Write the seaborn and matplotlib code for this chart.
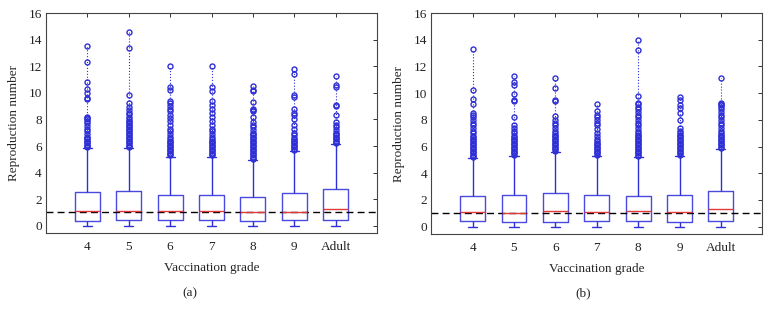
import pandas as pd
import seaborn as sns
import matplotlib.pyplot as plt

# Categories
grades = ['4', '5', '6', '7', '8', '9', 'Adult']

# Box stats: lower whisker, Q1, median, Q3, upper whisker
low_a = [0, 0, 0, 0, 0, 0, 0]
q1_a = [0.38, 0.43, 0.43, 0.40, 0.38, 0.43, 0.45]
med_a = [1.10, 1.10, 1.10, 1.10, 1.00, 1.05, 1.25]
q3_a = [2.53, 2.58, 2.33, 2.33, 2.20, 2.48, 2.76]
high_a = [5.85, 5.85, 5.20, 5.20, 4.95, 5.60, 6.15]

low_b = [0, 0, 0, 0, 0, 0, 0]
q1_b = [0.45, 0.37, 0.37, 0.45, 0.45, 0.37, 0.45]
med_b = [1.12, 1.05, 1.15, 1.10, 1.15, 1.10, 1.30]
q3_b = [2.31, 2.39, 2.51, 2.39, 2.31, 2.39, 2.64]
high_b = [5.15, 5.30, 5.60, 5.30, 5.25, 5.30, 5.85]

# Outliers per grade
out_a = [
    [5.9, 6.0, 6.1, 6.2, 6.3, 6.4, 6.5, 6.6, 6.7, 6.9, 7.1, 7.3, 7.5, 7.7, 7.9, 8.0, 8.1, 8.2,
     9.5, 9.6, 10.0, 10.3, 10.8, 12.3, 13.5],
    [5.9, 6.0, 6.1, 6.2, 6.3, 6.4, 6.5, 6.6, 6.7, 6.8, 6.9, 7.0, 7.1, 7.2, 7.3, 7.4, 7.5, 7.6,
     7.7, 7.8, 7.9, 8.0, 8.2, 8.4, 8.5, 8.7, 8.9, 9.2, 9.8, 13.4, 14.6],
    [5.3, 5.4, 5.5, 5.6, 5.7, 5.8, 5.9, 6.0, 6.1, 6.2, 6.3, 6.4, 6.5, 6.7, 6.9, 7.1, 7.3, 7.6,
     7.9, 8.1, 8.3, 8.6, 8.8, 9.0, 9.2, 9.4, 10.2, 10.4, 12.0],
    [5.3, 5.4, 5.5, 5.6, 5.7, 5.8, 5.9, 6.0, 6.1, 6.2, 6.3, 6.4, 6.5, 6.7, 6.9, 7.1, 7.3, 7.6,
     7.9, 8.2, 8.5, 8.8, 9.1, 9.4, 10.1, 10.4, 12.0],
    [5.0, 5.1, 5.2, 5.3, 5.4, 5.5, 5.6, 5.7, 5.8, 5.9, 6.0, 6.1, 6.2, 6.3, 6.4, 6.5, 6.6, 6.7,
     6.8, 6.9, 7.0, 7.2, 7.4, 7.6, 7.8, 8.2, 8.6, 8.7, 8.8, 9.3, 10.1, 10.2, 10.5],
    [5.7, 5.8, 5.9, 6.0, 6.1, 6.2, 6.3, 6.4, 6.5, 6.6, 6.8, 7.0, 7.3, 7.6, 8.0, 8.3, 8.5, 8.8,
     9.7, 9.8, 11.4, 11.8],
    [6.2, 6.3, 6.4, 6.5, 6.6, 6.7, 6.8, 6.9, 7.0, 7.2, 7.4, 7.6, 7.8, 8.3, 9.0, 9.1, 10.4,
     10.6, 11.3],
]
out_b = [
    [5.2, 5.3, 5.4, 5.5, 5.6, 5.7, 5.8, 5.9, 6.0, 6.1, 6.2, 6.3, 6.4, 6.5, 6.6, 6.7, 6.8, 7.0,
     7.2, 7.4, 7.6, 7.8, 8.0, 8.2, 8.4, 8.5, 9.2, 9.6, 10.2, 13.3],
    [5.4, 5.5, 5.6, 5.7, 5.8, 5.9, 6.0, 6.1, 6.2, 6.3, 6.4, 6.5, 6.6, 6.7, 6.8, 7.0, 7.2, 7.4,
     7.6, 8.2, 9.4, 9.5, 9.9, 10.6, 10.8, 11.3],
    [5.7, 5.8, 5.9, 6.0, 6.1, 6.2, 6.3, 6.4, 6.5, 6.6, 6.7, 6.8, 6.9, 7.0, 7.2, 7.4, 7.6, 7.8,
     8.0, 8.3, 9.4, 9.5, 10.4, 11.1],
    [5.4, 5.5, 5.6, 5.7, 5.8, 5.9, 6.0, 6.1, 6.2, 6.3, 6.4, 6.6, 6.8, 7.0, 7.3, 7.6, 7.8, 8.0,
     8.2, 8.4, 8.7, 9.2],
    [5.3, 5.4, 5.5, 5.6, 5.7, 5.8, 5.9, 6.0, 6.1, 6.2, 6.3, 6.4, 6.5, 6.6, 6.7, 6.8, 6.9, 7.0,
     7.2, 7.4, 7.6, 7.8, 8.0, 8.2, 8.4, 8.6, 8.8, 9.0, 9.2, 9.3, 9.8, 13.2, 14.0],
    [5.4, 5.5, 5.6, 5.7, 5.8, 5.9, 6.0, 6.1, 6.2, 6.3, 6.4, 6.5, 6.6, 6.7, 6.8, 6.9, 7.0, 7.2,
     7.4, 8.0, 8.5, 8.9, 9.1, 9.5, 9.7],
    [5.9, 6.0, 6.1, 6.2, 6.3, 6.4, 6.5, 6.6, 6.7, 6.8, 6.9, 7.0, 7.2, 7.4, 7.6, 7.8, 8.0, 8.2,
     8.4, 8.6, 8.8, 9.0, 9.1, 9.2, 9.3, 11.1],
]

yticks = [0, 2, 4, 6, 8, 10, 12, 14, 16]
panel_tags = ['(a)', '(b)']

sns.set_style('white')
plt.rcParams['font.family'] = ['Liberation Serif', 'DejaVu Serif']

blue = '#2f2fd6'
box_blue = '#4a4ae0'
red = '#e03a3a'


def draw_panel(ax, low, q1, med, q3, high, outliers):
    # five values per grade so the quartiles land on q1 / median / q3
    rows = []
    for g, a, b, c, d, e in zip(grades, low, q1, med, q3, high):
        for v in (a, b, c, d, e):
            rows.append({'grade': g, 'value': v})
    df = pd.DataFrame(rows)
    sns.boxplot(data=df, x='grade', y='value', order=grades, ax=ax, whis=(0, 100),
                showfliers=False, width=0.6, fill=False, color=box_blue, linewidth=1.0,
                medianprops={'color': red, 'linewidth': 1.0},
                whiskerprops={'color': blue, 'linewidth': 1.0},
                capprops={'color': blue, 'linewidth': 1.0}, capwidths=0.22)
    for i, vals in enumerate(outliers):
        ax.vlines(i, high[i], max(vals), colors=blue, linestyles=':', linewidth=0.8)
        ax.plot([i] * len(vals), vals, 'o', mfc='none', mec=blue, ms=3.6, mew=1.0)
    ax.axhline(1, color='black', linestyle='--', linewidth=1.0, dashes=(5, 3))
    ax.set_xlim(-1, 7)
    ax.set_ylim(-0.55, 16)
    ax.set_yticks(yticks)
    ax.set_xlabel('Vaccination grade', fontsize=9.5, labelpad=6)
    ax.set_ylabel('Reproduction number', fontsize=9.5, labelpad=6)
    ax.tick_params(axis='both', direction='in', length=3, width=0.7, colors='#333333',
                   labelcolor='#222222', labelsize=9.5, top=True, right=True)
    ax.tick_params(axis='y', pad=3)
    ax.tick_params(axis='x', pad=6)
    for s in ax.spines.values():
        s.set_color('#444444')
        s.set_linewidth(0.8)


fig = plt.figure(figsize=(7.7, 3.18), dpi=100)
ax1 = fig.add_axes([0.0597, 0.267, 0.430, 0.692])
ax2 = fig.add_axes([0.560, 0.264, 0.430, 0.695])
draw_panel(ax1, low_a, q1_a, med_a, q3_a, high_a, out_a)
draw_panel(ax2, low_b, q1_b, med_b, q3_b, high_b, out_b)
fig.text(190 / 770, 0.079, panel_tags[0], ha='center', va='center', fontsize=9.5)
fig.text(583 / 770, 0.079, panel_tags[1], ha='center', va='center', fontsize=9.5)

fig.savefig('out.png', dpi=100)
